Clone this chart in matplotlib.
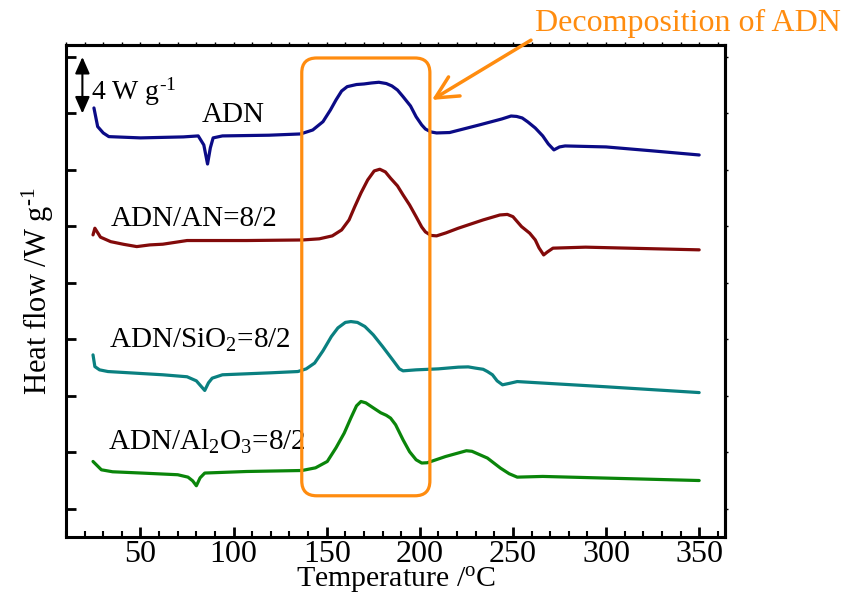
import matplotlib
matplotlib.use('Agg')
import matplotlib.pyplot as plt
from matplotlib.patches import FancyBboxPatch
from matplotlib.ticker import MultipleLocator

plt.rcParams['font.family'] = ['Liberation Serif', 'DejaVu Serif']
plt.rcParams['mathtext.fontset'] = 'custom'
plt.rcParams['mathtext.rm'] = 'Liberation Serif'
plt.rcParams['mathtext.it'] = 'Liberation Serif:italic'

# DSC curves (temperature in C, stacked heat flow in W/g)
t_adn = [25, 27, 30, 33, 50, 73, 81, 84, 86, 87.5, 89, 94, 119, 136, 142.5, 148, 152, 155,
         158, 161, 166, 170, 174, 178, 182, 185, 188, 191, 195, 198, 201, 203, 206, 209,
         216, 232, 244, 249, 252, 255, 258, 262, 266, 269, 272, 275, 278, 300, 325, 350]
hf_adn = [28.39, 27.07, 26.62, 26.36, 26.27, 26.34, 26.41, 25.77, 24.42, 25.56, 26.27, 26.41,
          26.46, 26.55, 26.83, 27.42, 28.25, 28.96, 29.59, 29.90, 30.05, 30.09, 30.16, 30.21,
          30.12, 29.95, 29.66, 29.19, 28.53, 27.77, 27.19, 26.90, 26.69, 26.62, 26.65, 27.19,
          27.61, 27.82, 27.79, 27.68, 27.40, 26.97, 26.41, 25.84, 25.42, 25.63, 25.70, 25.63,
          25.35, 25.06]

t_an = [24.5, 25.5, 28.5, 34, 41, 48, 55, 62, 75, 107, 137, 146, 153, 158, 162, 165, 168.4,
        172, 175.5, 178.5, 181.5, 184.3, 188, 191, 194.5, 198, 201, 203, 206, 209, 214, 220.6,
        234, 243, 247, 250, 254.6, 259, 262, 264, 266.5, 268.5, 271.5, 289, 350]
hf_an = [19.40, 19.87, 19.24, 18.92, 18.73, 18.57, 18.69, 18.74, 19.00, 19.00, 19.04, 19.12,
         19.33, 19.75, 20.46, 21.38, 22.37, 23.29, 23.93, 24.05, 23.86, 23.41, 22.87, 22.23,
         21.52, 20.69, 19.96, 19.61, 19.36, 19.33, 19.54, 19.87, 20.46, 20.81, 20.85, 20.69,
         19.99, 19.52, 19.04, 18.48, 17.98, 18.19, 18.46, 18.53, 18.34]

t_sio2 = [24.5, 25.5, 28, 32.5, 62, 75, 80, 84.5, 86.5, 88.5, 94, 120, 134.5, 139, 143.5, 148,
          152.5, 156, 160, 163, 166.5, 170.5, 175, 180, 185, 189, 191, 198, 210, 220.6, 226,
          230, 234, 236.3, 239, 241.5, 244.4, 248, 252.3, 300, 350]
hf_sio2 = [10.90, 10.07, 9.84, 9.72, 9.49, 9.35, 9.06, 8.38, 8.92, 9.25, 9.49, 9.63, 9.72,
           9.91, 10.32, 11.19, 12.20, 12.81, 13.20, 13.26, 13.20, 12.91, 12.32, 11.49, 10.62,
           9.91, 9.77, 9.84, 9.91, 10.03, 10.05, 9.96, 9.88, 9.72, 9.49, 9.06, 8.78, 8.88,
           9.01, 8.64, 8.23]

t_al2o3 = [24.5, 29, 35, 50.5, 70, 75.5, 78, 80, 82, 84.5, 107, 136.7, 144, 150.3, 155, 159.4,
           163, 166, 168.4, 171, 175.2, 179, 182, 184.3, 187, 191, 194.5, 198, 201, 204,
           213.8, 225, 228, 236.3, 243.3, 248, 252.3, 266, 350]
hf_al2o3 = [3.35, 2.76, 2.62, 2.53, 2.41, 2.24, 1.98, 1.63, 2.19, 2.53, 2.64, 2.71, 2.90, 3.35,
            4.32, 5.36, 6.44, 7.29, 7.60, 7.50, 7.13, 6.80, 6.62, 6.42, 5.95, 4.88, 4.04, 3.47,
            3.24, 3.26, 3.70, 4.11, 4.07, 3.59, 2.88, 2.48, 2.24, 2.29, 2.00]

labels = ['ADN', 'ADN/AN=8/2', r'ADN/SiO$_2$=8/2', r'ADN/Al$_2$O$_3$=8/2']
colors = ['#0b0b86', '#820a0a', '#0a8080', '#0a850a']
orange = '#ff8c0f'

fig = plt.figure(figsize=(8.43, 5.96), dpi=100)
ax = fig.add_axes([0.0783, 0.099, 0.782, 0.8255])

curves = [(t_adn, hf_adn), (t_an, hf_an), (t_sio2, hf_sio2), (t_al2o3, hf_al2o3)]
for (t, hf), c in zip(curves, colors):
    ax.plot(t, hf, color=c, lw=2.3, solid_capstyle='round', solid_joinstyle='round')

ax.set_xlim(10, 364)
ax.set_ylim(-2, 32.85)
ax.xaxis.set_major_locator(MultipleLocator(50))
ax.xaxis.set_minor_locator(MultipleLocator(10))
ax.yaxis.set_major_locator(MultipleLocator(4))
ax.set_yticklabels([])
ax.set_xticks([50, 100, 150, 200, 250, 300, 350])

for s in ax.spines.values():
    s.set_linewidth(2.2)
ax.tick_params(axis='x', which='major', direction='in', length=7, width=2, labelsize=23, pad=2)
ax.tick_params(axis='x', which='minor', direction='in', length=4, width=1.5)
ax.tick_params(axis='y', which='major', direction='in', length=7, width=2)

# faint ticks on top and right, like the original
top = ax.secondary_xaxis('top')
top.xaxis.set_major_locator(MultipleLocator(10))
top.tick_params(direction='out', length=2, width=1, labeltop=False)
right = ax.secondary_yaxis('right')
right.yaxis.set_major_locator(MultipleLocator(4))
right.tick_params(direction='out', length=2, width=1, labelright=False)
top.spines['top'].set_linewidth(2.2)
right.spines['right'].set_linewidth(2.2)

ax.set_xlabel(r'Temperature /$^{\rm o}$C', fontsize=21.5, labelpad=-3)
ax.set_ylabel(r'Heat flow /W g$^{\text{-1}}$', fontsize=22, labelpad=4)

# curve labels
ax.text(100, 27.42, labels[0], fontsize=21, ha='center', va='baseline')
ax.text(34.2, 20.04, labels[1], fontsize=21, ha='left', va='baseline')
ax.text(33.1, 11.38, labels[2], fontsize=21, ha='left', va='baseline')
ax.text(32.5, 4.18, labels[3], fontsize=21, ha='left', va='baseline')

# scale bar
ax.annotate('', xy=(18.8, 28.0), xytext=(18.8, 32.0),
            arrowprops=dict(arrowstyle='<|-|>,head_length=0.5,head_width=0.22', color='black',
                            lw=1.5, shrinkA=0, shrinkB=0, mutation_scale=20))
ax.text(23.5, 29.0, r'4 W g$^{\text{-1}}$', fontsize=20, ha='left', va='baseline')

# decomposition box
box = FancyBboxPatch((136.6, 0.92), 205.4 - 136.6, 31.93 - 0.92,
                     boxstyle='round,pad=0,rounding_size=8', mutation_aspect=1.86 / 14.125,
                     fill=False, edgecolor=orange, lw=2.3, zorder=3)
ax.add_patch(box)

ax.annotate('Decomposition of ADN', xy=(206.5, 28.96), xytext=(0.816, 0.961),
            textcoords='figure fraction', fontsize=23, color=orange, ha='center', va='center',
            annotation_clip=False,
            arrowprops=dict(arrowstyle='->,head_length=0.8,head_width=0.4', color=orange,
                            lw=2.5, shrinkA=1, shrinkB=0, mutation_scale=20,
                            relpos=(0.0, 0.0)))

fig.savefig('out.png', dpi=100)
